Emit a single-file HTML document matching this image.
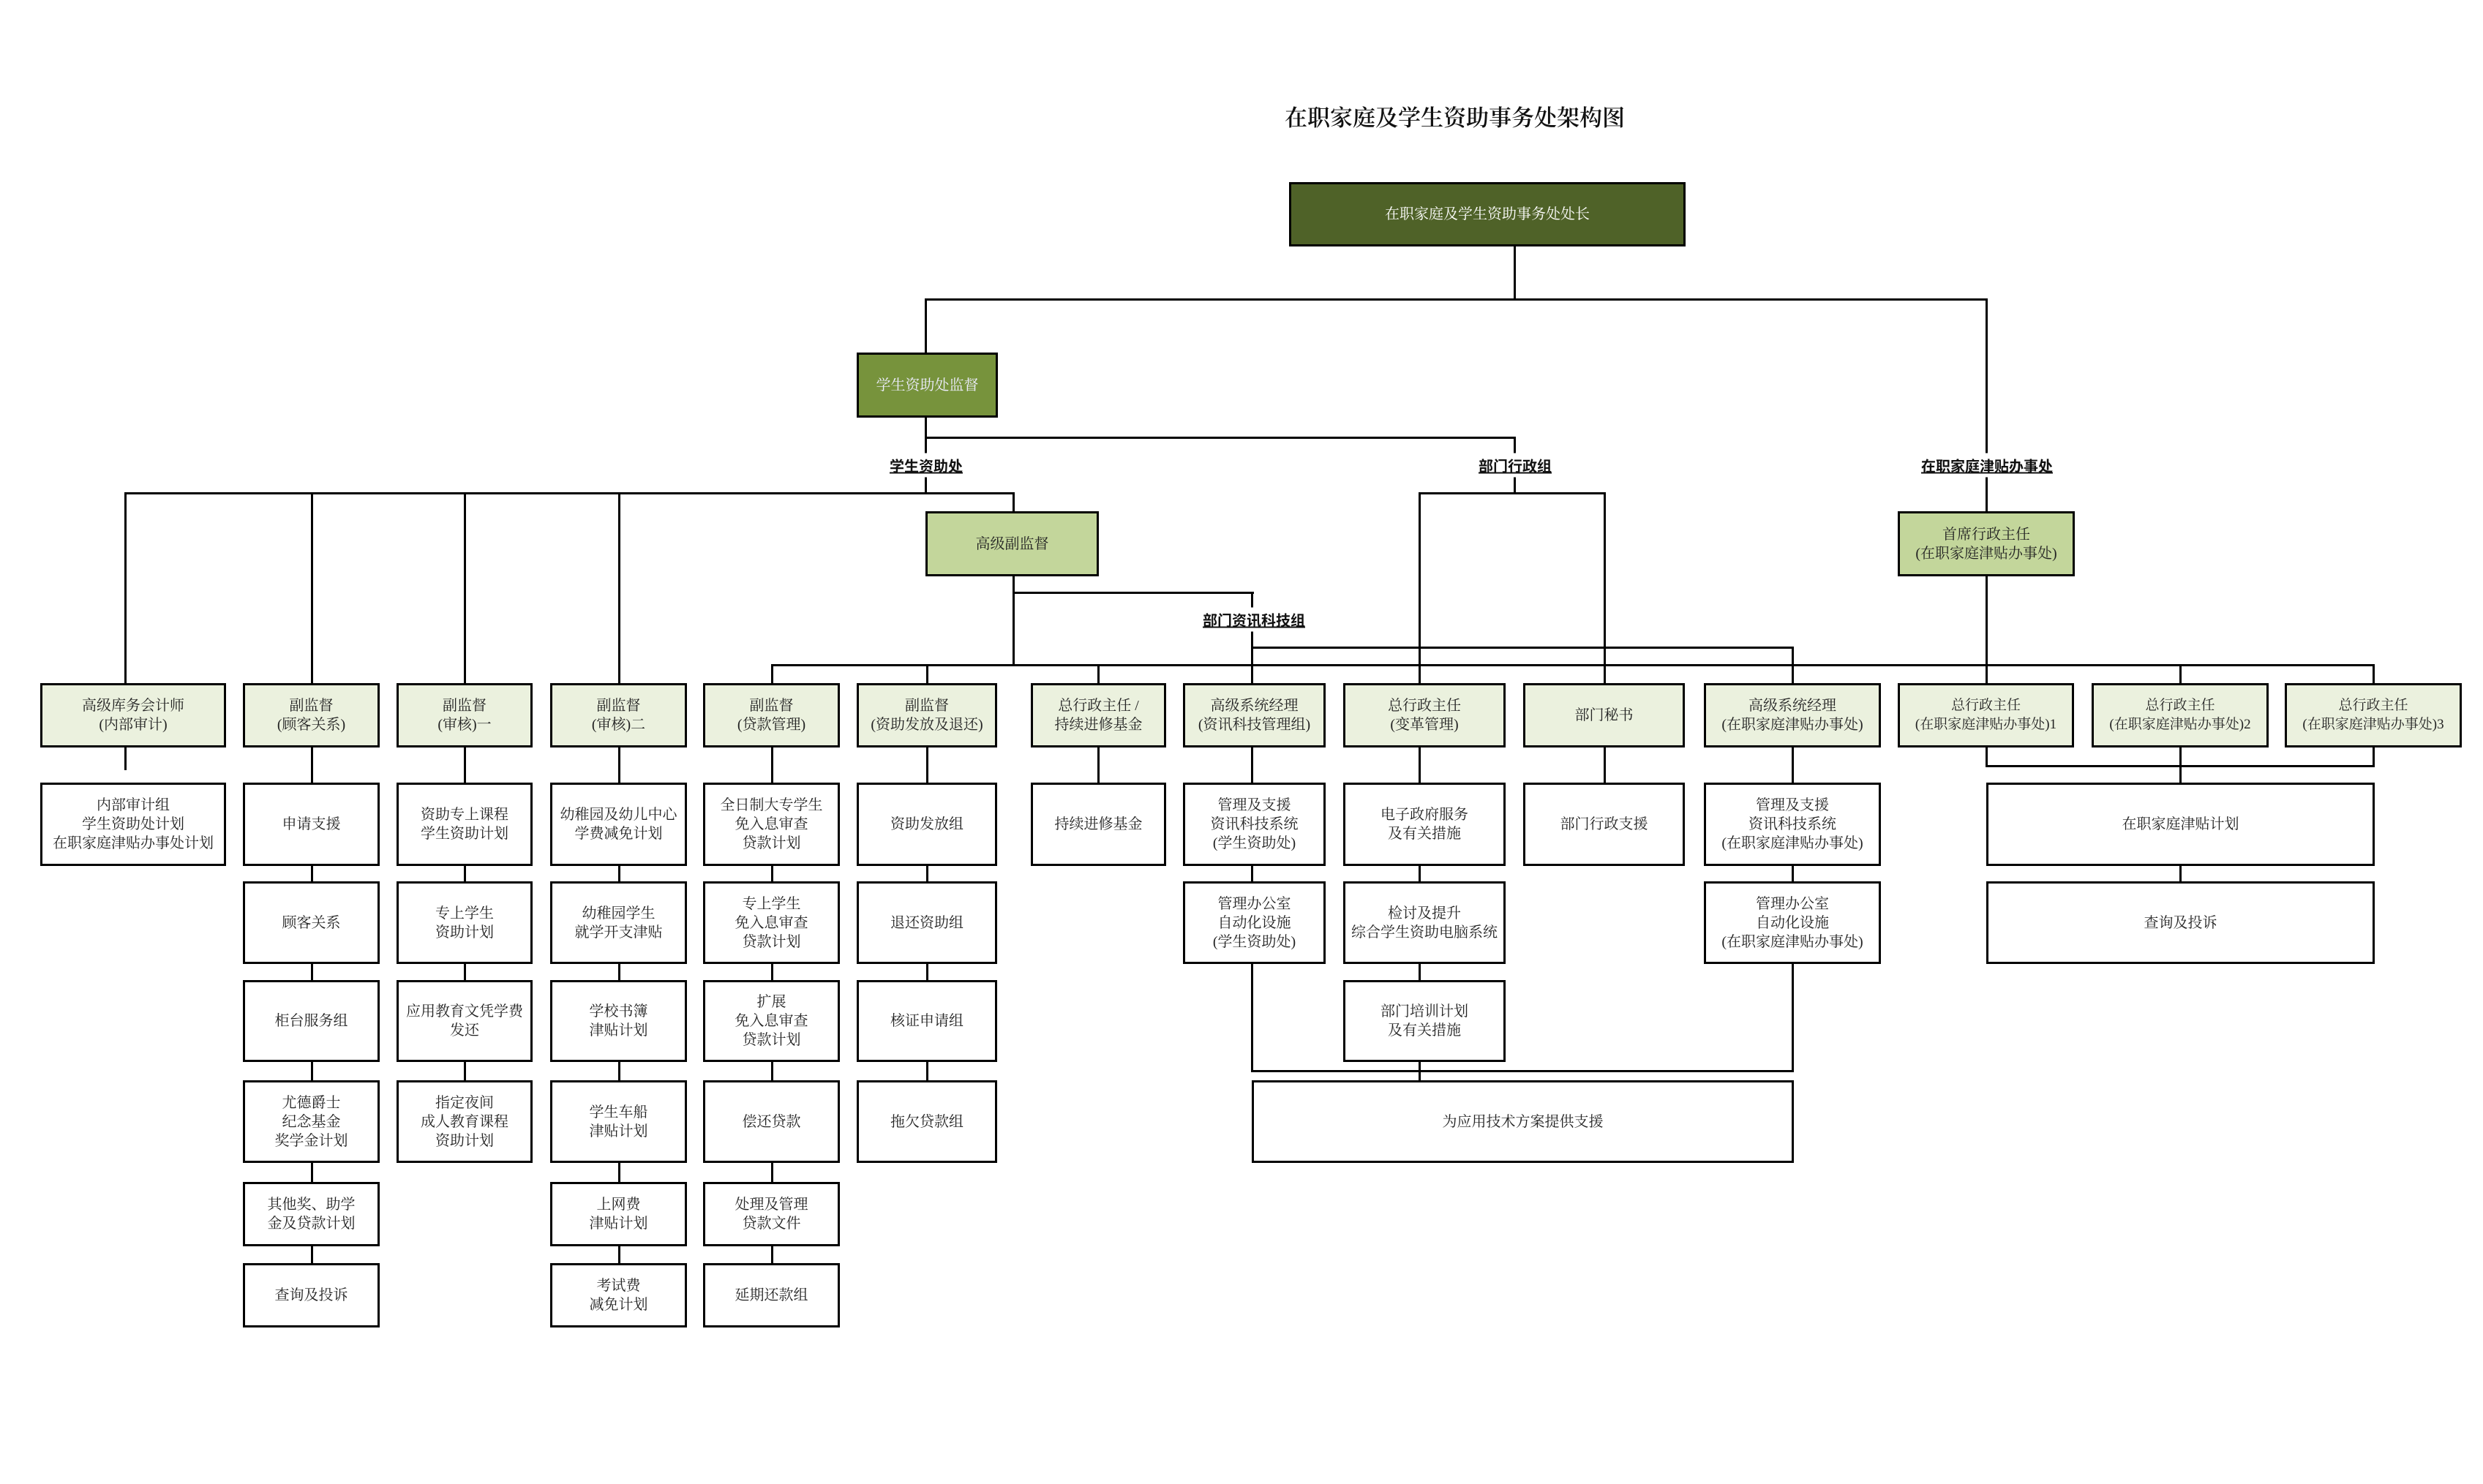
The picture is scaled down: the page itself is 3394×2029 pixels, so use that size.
<!DOCTYPE html>
<html><head><meta charset="utf-8">
<style>
html,body{margin:0;padding:0;background:#fff;}
body{width:3394px;height:2029px;position:relative;overflow:hidden;font-family:"Liberation Serif","Noto Serif CJK SC",serif;}
.b{position:absolute;box-sizing:border-box;border:3px solid #000;display:flex;align-items:center;justify-content:center;text-align:center;font-size:20px;line-height:26px;color:#222;background:#fff;white-space:nowrap;}
.g{background:#ebf1de;}
.l{position:absolute;background:#000;}
.lab{position:absolute;transform:translate(-50%,-50%);background:#fff;font-family:"Liberation Sans","Noto Sans CJK SC",sans-serif;font-size:20px;font-weight:600;text-decoration:underline;padding:2px 4px;white-space:nowrap;color:#111;}
</style></head><body>
<div style="position:absolute;left:1756px;top:136px;font-size:31px;color:#111;white-space:nowrap;font-weight:600;">在职家庭及学生资助事务处架构图</div>

<!-- lines -->
<div class="l" style="left:2069px;top:336px;width:3px;height:74px"></div>
<div class="l" style="left:1264px;top:408px;width:1453px;height:3px"></div>
<div class="l" style="left:1264px;top:408px;width:3px;height:76px"></div>
<div class="l" style="left:1264px;top:569px;width:3px;height:106px"></div>
<div class="l" style="left:1264px;top:597px;width:808px;height:3px"></div>
<div class="l" style="left:2069px;top:597px;width:3px;height:78px"></div>
<div class="l" style="left:170px;top:673px;width:1217px;height:3px"></div>
<div class="l" style="left:170px;top:673px;width:3px;height:380px"></div>
<div class="l" style="left:425px;top:673px;width:3px;height:1056px"></div>
<div class="l" style="left:634px;top:673px;width:3px;height:806px"></div>
<div class="l" style="left:845px;top:673px;width:3px;height:1056px"></div>
<div class="l" style="left:1384px;top:673px;width:3px;height:238px"></div>
<div class="l" style="left:2714px;top:408px;width:3px;height:528px"></div>
<div class="l" style="left:1939px;top:673px;width:256px;height:3px"></div>
<div class="l" style="left:1939px;top:673px;width:3px;height:806px"></div>
<div class="l" style="left:2192px;top:673px;width:3px;height:400px"></div>
<div class="l" style="left:1384px;top:809px;width:330px;height:3px"></div>
<div class="l" style="left:1710px;top:809px;width:3px;height:656px"></div>
<div class="l" style="left:1710px;top:884px;width:742px;height:3px"></div>
<div class="l" style="left:2449px;top:884px;width:3px;height:581px"></div>
<div class="l" style="left:1054px;top:908px;width:2192px;height:3px"></div>
<div class="l" style="left:1054px;top:908px;width:3px;height:821px"></div>
<div class="l" style="left:1266px;top:908px;width:3px;height:571px"></div>
<div class="l" style="left:1500px;top:908px;width:3px;height:164px"></div>
<div class="l" style="left:2979px;top:908px;width:3px;height:300px"></div>
<div class="l" style="left:3243px;top:908px;width:3px;height:141px"></div>
<div class="l" style="left:2714px;top:1020px;width:3px;height:29px"></div>
<div class="l" style="left:2714px;top:1046px;width:532px;height:3px"></div>
<div class="l" style="left:1710px;top:1463px;width:742px;height:3px"></div>

<div class="lab" style="left:1266px;top:636px">学生资助处</div>
<div class="lab" style="left:2071px;top:636px">部门行政组</div>
<div class="lab" style="left:2716px;top:636px">在职家庭津贴办事处</div>
<div class="lab" style="left:1714px;top:847px">部门资讯科技组</div>

<!-- top boxes -->
<div class="b" style="left:1762px;top:249px;width:542px;height:88px;background:#4f6228;color:#fff">在职家庭及学生资助事务处处长</div>
<div class="b" style="left:1171px;top:482px;width:193px;height:89px;background:#77933c;color:#eef">学生资助处监督</div>
<div class="b" style="left:1265px;top:699px;width:237px;height:89px;background:#c3d69b">高级副监督</div>
<div class="b" style="left:2594px;top:699px;width:242px;height:89px;background:#c3d69b">首席行政主任<br>(在职家庭津贴办事处)</div>

<!-- row 1 -->
<div class="b g" style="left:55px;top:934px;width:254px;height:88px">高级库务会计师<br>(内部审计)</div>
<div class="b g" style="left:332px;top:934px;width:187px;height:88px">副监督<br>(顾客关系)</div>
<div class="b g" style="left:542px;top:934px;width:186px;height:88px">副监督<br>(审核)一</div>
<div class="b g" style="left:752px;top:934px;width:187px;height:88px">副监督<br>(审核)二</div>
<div class="b g" style="left:961px;top:934px;width:187px;height:88px">副监督<br>(贷款管理)</div>
<div class="b g" style="left:1171px;top:934px;width:192px;height:88px">副监督<br>(资助发放及退还)</div>
<div class="b g" style="left:1409px;top:934px;width:185px;height:88px">总行政主任 /<br>持续进修基金</div>
<div class="b g" style="left:1617px;top:934px;width:195px;height:88px">高级系统经理<br>(资讯科技管理组)</div>
<div class="b g" style="left:1836px;top:934px;width:222px;height:88px">总行政主任<br>(变革管理)</div>
<div class="b g" style="left:2082px;top:934px;width:221px;height:88px">部门秘书</div>
<div class="b g" style="left:2329px;top:934px;width:242px;height:88px">高级系统经理<br>(在职家庭津贴办事处)</div>
<div class="b g" style="left:2594px;top:934px;width:241px;height:88px;font-size:19px">总行政主任<br>(在职家庭津贴办事处)1</div>
<div class="b g" style="left:2859px;top:934px;width:242px;height:88px;font-size:19px">总行政主任<br>(在职家庭津贴办事处)2</div>
<div class="b g" style="left:3123px;top:934px;width:242px;height:88px;font-size:19px">总行政主任<br>(在职家庭津贴办事处)3</div>

<!-- row 2 -->
<div class="b" style="left:55px;top:1070px;width:254px;height:114px">内部审计组<br>学生资助处计划<br>在职家庭津贴办事处计划</div>
<div class="b" style="left:332px;top:1070px;width:187px;height:114px">申请支援</div>
<div class="b" style="left:542px;top:1070px;width:186px;height:114px">资助专上课程<br>学生资助计划</div>
<div class="b" style="left:752px;top:1070px;width:187px;height:114px">幼稚园及幼儿中心<br>学费减免计划</div>
<div class="b" style="left:961px;top:1070px;width:187px;height:114px">全日制大专学生<br>免入息审查<br>贷款计划</div>
<div class="b" style="left:1171px;top:1070px;width:192px;height:114px">资助发放组</div>
<div class="b" style="left:1409px;top:1070px;width:185px;height:114px">持续进修基金</div>
<div class="b" style="left:1617px;top:1070px;width:195px;height:114px">管理及支援<br>资讯科技系统<br>(学生资助处)</div>
<div class="b" style="left:1836px;top:1070px;width:222px;height:114px">电子政府服务<br>及有关措施</div>
<div class="b" style="left:2082px;top:1070px;width:221px;height:114px">部门行政支援</div>
<div class="b" style="left:2329px;top:1070px;width:242px;height:114px">管理及支援<br>资讯科技系统<br>(在职家庭津贴办事处)</div>
<div class="b" style="left:2715px;top:1070px;width:531px;height:114px">在职家庭津贴计划</div>

<!-- row 3 -->
<div class="b" style="left:332px;top:1205px;width:187px;height:113px">顾客关系</div>
<div class="b" style="left:542px;top:1205px;width:186px;height:113px">专上学生<br>资助计划</div>
<div class="b" style="left:752px;top:1205px;width:187px;height:113px">幼稚园学生<br>就学开支津贴</div>
<div class="b" style="left:961px;top:1205px;width:187px;height:113px">专上学生<br>免入息审查<br>贷款计划</div>
<div class="b" style="left:1171px;top:1205px;width:192px;height:113px">退还资助组</div>
<div class="b" style="left:1617px;top:1205px;width:195px;height:113px">管理办公室<br>自动化设施<br>(学生资助处)</div>
<div class="b" style="left:1836px;top:1205px;width:222px;height:113px">检讨及提升<br>综合学生资助电脑系统</div>
<div class="b" style="left:2329px;top:1205px;width:242px;height:113px">管理办公室<br>自动化设施<br>(在职家庭津贴办事处)</div>
<div class="b" style="left:2715px;top:1205px;width:531px;height:113px">查询及投诉</div>

<!-- row 4 -->
<div class="b" style="left:332px;top:1340px;width:187px;height:112px">柜台服务组</div>
<div class="b" style="left:542px;top:1340px;width:186px;height:112px">应用教育文凭学费<br>发还</div>
<div class="b" style="left:752px;top:1340px;width:187px;height:112px">学校书簿<br>津贴计划</div>
<div class="b" style="left:961px;top:1340px;width:187px;height:112px">扩展<br>免入息审查<br>贷款计划</div>
<div class="b" style="left:1171px;top:1340px;width:192px;height:112px">核证申请组</div>
<div class="b" style="left:1836px;top:1340px;width:222px;height:112px">部门培训计划<br>及有关措施</div>

<!-- row 5 -->
<div class="b" style="left:332px;top:1477px;width:187px;height:113px">尤德爵士<br>纪念基金<br>奖学金计划</div>
<div class="b" style="left:542px;top:1477px;width:186px;height:113px">指定夜间<br>成人教育课程<br>资助计划</div>
<div class="b" style="left:752px;top:1477px;width:187px;height:113px">学生车船<br>津贴计划</div>
<div class="b" style="left:961px;top:1477px;width:187px;height:113px">偿还贷款</div>
<div class="b" style="left:1171px;top:1477px;width:192px;height:113px">拖欠贷款组</div>
<div class="b" style="left:1711px;top:1477px;width:741px;height:113px">为应用技术方案提供支援</div>

<!-- row 6 -->
<div class="b" style="left:332px;top:1616px;width:187px;height:88px">其他奖、助学<br>金及贷款计划</div>
<div class="b" style="left:752px;top:1616px;width:187px;height:88px">上网费<br>津贴计划</div>
<div class="b" style="left:961px;top:1616px;width:187px;height:88px">处理及管理<br>贷款文件</div>

<!-- row 7 -->
<div class="b" style="left:332px;top:1727px;width:187px;height:88px">查询及投诉</div>
<div class="b" style="left:752px;top:1727px;width:187px;height:88px">考试费<br>减免计划</div>
<div class="b" style="left:961px;top:1727px;width:187px;height:88px">延期还款组</div>
</body></html>
